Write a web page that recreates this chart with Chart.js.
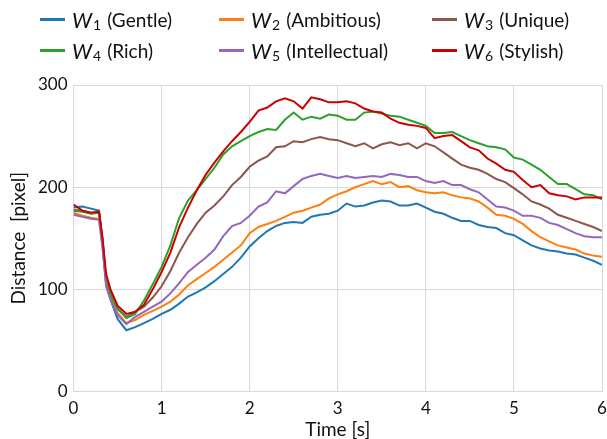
<!DOCTYPE html>
<html>
<head>
<meta charset="utf-8">
<script src="https://cdn.jsdelivr.net/npm/chart.js@4"></script>
<style>
  body { margin: 0; background: #fff; }
  #wrap { position: relative; width: 607px; height: 439px; }
  #legend { position: absolute; left: 0; top: 0; width: 607px; height: 70px; font-family: Lato, "Open Sans", sans-serif; font-size: 19px; color: #111; }
  .item { position: absolute; display: flex; align-items: center; white-space: pre; height: 24px; }
  .swatch { display: inline-block; width: 25px; height: 3px; margin-right: 7px; }
  .item i { font-style: italic; font-size: 21px; }
  .item sub { font-size: 14px; position: relative; top: 5px; margin-left: 1px; margin-right: 6px; }
</style>
</head>
<body>
<div id="wrap">
  <canvas id="chart" width="607" height="439"></canvas>
  <div id="legend"></div>
</div>
<script>
// time axis [s]
const times = [0, 0.1, 0.2, 0.29, 0.33, 0.37, 0.42, 0.5,
  0.6, 0.7, 0.8, 0.9, 1.0,
  1.1, 1.2, 1.3, 1.4, 1.5, 1.6, 1.7, 1.8, 1.9, 2.0,
  2.1, 2.2, 2.3, 2.4, 2.5, 2.6, 2.7, 2.8, 2.9, 3.0,
  3.1, 3.2, 3.3, 3.4, 3.5, 3.6, 3.7, 3.8, 3.9, 4.0,
  4.1, 4.2, 4.3, 4.4, 4.5, 4.6, 4.7, 4.8, 4.9, 5.0,
  5.1, 5.2, 5.3, 5.4, 5.5, 5.6, 5.7, 5.8, 5.9, 6.0];

const gentle = [180, 181, 179, 177, 145, 105, 90, 71,
  60, 63, 67, 71, 76,
  80, 86, 93, 97, 102, 108, 115, 122, 131, 142,
  150, 157, 162, 165, 166, 165, 171, 173, 174, 177,
  184, 181, 182, 185, 187, 186, 182, 182, 184, 180,
  176, 174, 170, 167, 167, 163, 161, 160, 155, 153,
  148, 143, 140, 138, 137, 135, 134, 131, 128, 124];

const ambitious = [175, 172, 170, 169, 142, 107, 93, 77,
  67, 70, 75, 79, 83,
  88, 95, 104, 110, 116, 122, 129, 136, 143, 155,
  161, 164, 167, 171, 175, 177, 180, 183, 189, 193,
  196, 200, 203, 206, 203, 205, 200, 201, 197, 195,
  194, 195, 192, 190, 189, 186, 180, 173, 172, 169,
  164, 157, 151, 147, 143, 141, 139, 135, 133, 132];

const unique = [178, 177, 175, 175, 148, 110, 96, 81,
  73, 78, 83, 92, 103,
  118, 136, 151, 164, 175, 182, 191, 202, 210, 220,
  226, 230, 239, 240, 245, 244, 247, 249, 247, 246,
  243, 240, 243, 238, 242, 244, 241, 243, 238, 243,
  240, 234, 228, 222, 219, 217, 213, 208, 205, 199,
  193, 186, 183, 179, 173, 170, 167, 164, 161, 157];

const rich = [177, 176, 174, 175, 148, 110, 95, 81,
  72, 76, 89, 105, 122,
  143, 170, 187, 197, 208, 219, 232, 240, 245, 250,
  254, 257, 256, 266, 273, 266, 269, 267, 271, 270,
  266, 266, 273, 274, 272, 270, 269, 266, 263, 260,
  253, 253, 254, 250, 246, 243, 240, 239, 237, 229,
  227, 222, 217, 210, 203, 203, 198, 193, 192, 188];

const intellectual = [173, 171, 169, 168, 140, 103, 90, 75,
  66, 73, 78, 83, 88,
  96, 106, 117, 124, 131, 139, 152, 162, 165, 172,
  181, 185, 196, 194, 201, 208, 211, 213, 211, 209,
  211, 209, 210, 211, 210, 213, 212, 210, 210, 206,
  204, 206, 202, 202, 198, 195, 188, 181, 180, 177,
  172, 172, 170, 165, 163, 159, 155, 152, 151, 151];

const stylish = [183, 177, 175, 176, 150, 115, 100, 84,
  76, 78, 85, 100, 117,
  136, 161, 180, 197, 212, 224, 235, 245, 254, 264,
  275, 278, 284, 287, 284, 277, 288, 286, 283, 283,
  284, 282, 277, 274, 273, 267, 263, 261, 260, 258,
  248, 250, 251, 245, 239, 236, 228, 223, 217, 215,
  207, 200, 202, 194, 192, 191, 188, 190, 190, 190];

const seriesNames = ['Gentle', 'Ambitious', 'Unique', 'Rich', 'Intellectual', 'Stylish'];
const seriesValues = [gentle, ambitious, unique, rich, intellectual, stylish];
const colors = ['#1f77b4', '#ff7f0e', '#8c564b', '#2ca02c', '#9467bd', '#cc0000'];
const drawOrder = [5, 4, 3, 2, 1, 0];

const datasets = seriesValues.map(function (vals, i) {
  return {
    label: 'W' + (i + 1) + ' (' + seriesNames[i] + ')',
    data: vals.map(function (v, j) { return { x: times[j], y: v }; }),
    borderColor: colors[i],
    borderWidth: 2,
    pointRadius: 0,
    tension: 0,
    fill: false,
    order: drawOrder[i]
  };
});

// html legend so the W can be italic with a subscript
const legend = document.getElementById('legend');
const legendPos = [[40, 19], [219, 19], [432, 19], [40, 50], [219, 50], [432, 50]];
seriesNames.forEach(function (name, i) {
  const item = document.createElement('div');
  item.className = 'item';
  item.style.left = legendPos[i][0] + 'px';
  item.style.top = (legendPos[i][1] - 12) + 'px';
  item.innerHTML = '<span class="swatch" style="background:' + colors[i] + '"></span>' +
    '<i>W</i><sub>' + (i + 1) + '</sub>(' + name + ')';
  legend.appendChild(item);
});

const gridColor = '#d9d9d9';
const tickFont = { family: 'Lato, "Open Sans", sans-serif', size: 17 };
const titleFont = { family: 'Lato, "Open Sans", sans-serif', size: 19, lineHeight: 1 };

new Chart(document.getElementById('chart'), {
  type: 'line',
  data: { datasets: datasets },
  options: {
    responsive: false,
    animation: false,
    layout: { padding: { top: 85, right: 0, left: 0, bottom: 0 } },
    plugins: { legend: { display: false }, tooltip: { enabled: false } },
    scales: {
      x: {
        type: 'linear',
        min: 0,
        max: 6,
        ticks: { stepSize: 1, color: '#111', font: tickFont, padding: 7 },
        grid: { color: gridColor, drawTicks: false },
        border: { color: gridColor },
        title: { display: true, text: 'Time [s]', color: '#111', font: titleFont, padding: { top: 0, bottom: 0 } },
        afterFit: function (scale) {
          scale.height = 47.5;
          scale.paddingLeft = 0;
          scale.paddingRight = 5;
        }
      },
      y: {
        min: 0,
        max: 300,
        ticks: { stepSize: 100, color: '#111', font: tickFont, padding: 6 },
        grid: { color: gridColor, drawTicks: false },
        border: { color: gridColor },
        title: { display: true, text: 'Distance  [pixel]', color: '#111', font: titleFont, padding: { top: 9, bottom: 0 } },
        afterFit: function (scale) {
          scale.width = 73.5;
          scale.paddingTop = 0;
          scale.paddingBottom = 0;
        }
      }
    }
  }
});
</script>
</body>
</html>
